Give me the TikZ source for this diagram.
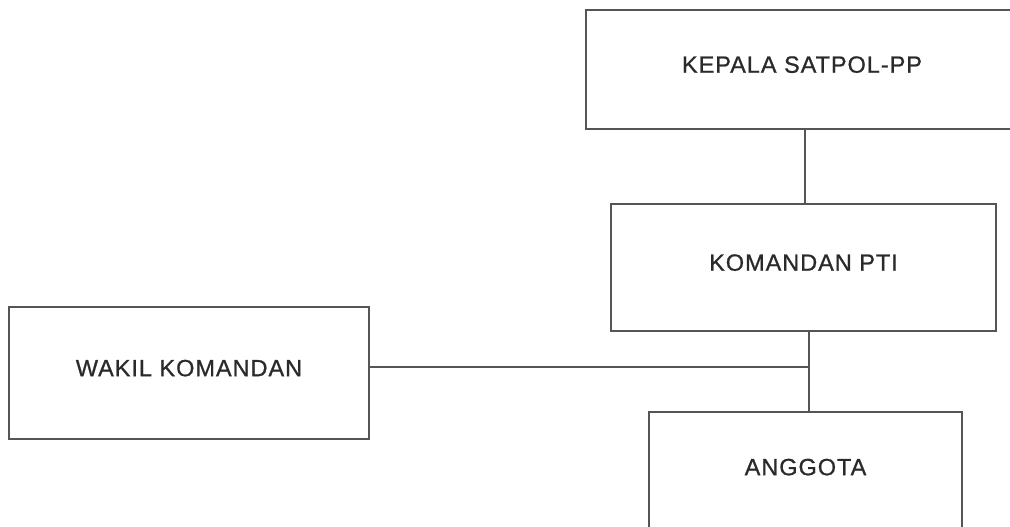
\documentclass[tikz,border=0pt]{standalone}
\usepackage{fontspec}
\setmainfont{Liberation Sans}
\newfontfamily\boxfont{Liberation Sans}[FakeBold=0.8, LetterSpace=4]
\usepackage{tikz}
\usetikzlibrary{positioning}
\usepackage{xcolor}
\definecolor{linegray}{HTML}{555555}
\definecolor{textgray}{HTML}{2A2A2A}

\begin{document}
\begin{tikzpicture}[orgbox/.style={draw=linegray, line width=1.1pt, align=center, text=textgray, font=\boxfont\fontsize{13.4}{16}\selectfont, text height=9.7pt, text depth=6pt}]
      \useasboundingbox (0,0) rectangle (20.2,10.54);
      \clip (0,0) rectangle (20.2,10.54);
      \node[orgbox, minimum width=8.64cm, minimum height=2.38cm] (kepala) at (16.04,9.15) {KEPALA SATPOL-PP};
      \node[orgbox, minimum width=7.7cm, minimum height=2.54cm] (komandan) at (16.07,5.19) {KOMANDAN PTI};
      \node[orgbox, minimum width=7.2cm, minimum height=2.64cm] (wakil) at (3.78,3.08) {WAKIL KOMANDAN};
      \node[orgbox, minimum width=6.26cm, minimum height=2.4cm] (anggota) at (16.11,1.1) {ANGGOTA};
      \coordinate (trunk) at (16.18,3.2);
      \draw[linegray, line width=1.1pt] (kepala.south -| 16.1,0) -- (komandan.north -| 16.1,0);
      \draw[linegray, line width=1.1pt] (komandan.south -| trunk) -- (anggota.north -| trunk);
      \draw[linegray, line width=1.1pt] (wakil.east |- trunk) -- (trunk);
    \end{tikzpicture}
\end{document}
